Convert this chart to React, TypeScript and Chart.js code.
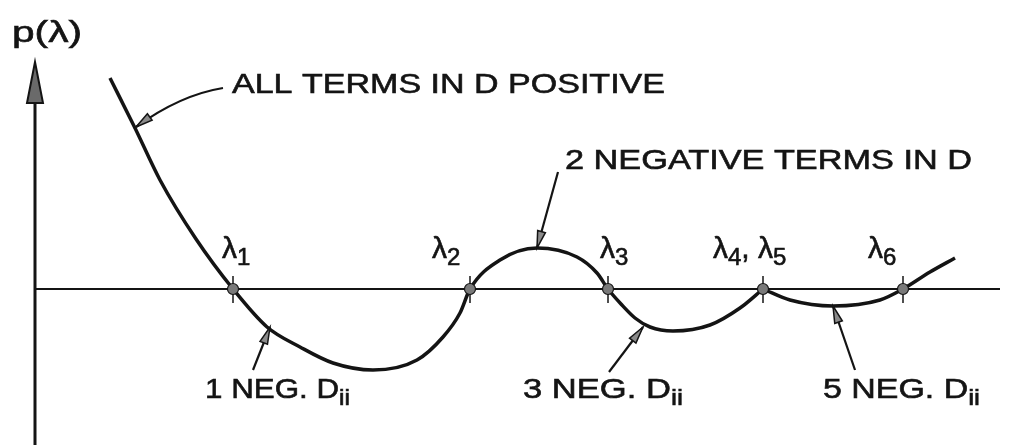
import { useEffect, useRef } from "react";
import { Chart, registerables } from "chart.js";

Chart.register(...registerables);

// p(λ) traced from the left branch up to the double root λ4 = λ5,
// where the curve touches the axis with a corner.
const lambdaLeft = [0.75, 1.0, 1.25, 1.61, 1.98, 2.32, 2.65, 2.98, 3.38, 3.82, 4.08, 4.25, 4.35, 4.65, 5.02, 5.42, 5.62, 5.73, 5.86, 6.0, 6.15, 6.38, 6.75, 7.05, 7.28];
const pLeft = [2.11, 1.61, 1.09, 0.5, 0, -0.38, -0.58, -0.74, -0.81, -0.71, -0.48, -0.24, 0, 0.29, 0.41, 0.32, 0.16, 0, -0.15, -0.29, -0.38, -0.42, -0.36, -0.19, 0];

// p(λ) from the double root onwards.
const lambdaRight = [7.28, 7.55, 7.98, 8.45, 8.68, 8.95, 9.2];
const pRight = [0, -0.11, -0.17, -0.11, 0, 0.17, 0.31];

// Roots on the λ axis and their labels (digits are set as subscripts).
const rootValues = [1.98, 4.35, 5.73, 7.28, 8.68];
const rootLabels = ["λ1", "λ2", "λ3", "λ4, λ5", "λ6"];
const rootLabelLeft = [1.87, 3.97, 5.65, 6.78, 8.33];

// Callout texts ("_" starts a subscript), with left λ, right λ and baseline p.
const calloutTexts = ["ALL TERMS IN D POSITIVE", "2 NEGATIVE TERMS IN D", "1 NEG. D_ii", "3 NEG. D_ii", "5 NEG. D_ii"];
const calloutLeft = [1.97, 5.3, 1.7, 4.88, 7.88];
const calloutRight = [6.3, 9.37, 3.15, 6.48, 9.45];
const calloutBaseline = [1.96, 1.2, -1.09, -1.09, -1.09];

// Leader arrows: start point and tip on the curve.
const leaderFrom = [[1.88, 2.01], [5.23, 1.17], [2.18, -0.81], [5.74, -0.83], [8.2, -0.81]];
const leaderTip = [[1.01, 1.62], [5.02, 0.41], [2.35, -0.38], [6.08, -0.38], [7.98, -0.17]];
const leaderBend = [[1.45, 1.94], null, null, null, null];

const LAMBDA_MIN = -0.35;
const LAMBDA_MAX = 9.78;
const P_MIN = -1.56;
const P_MAX = 2.89;
const AXIS_END = 9.65;
const ARROW_BASE = 1.86;
const ARROW_TIP = 2.27;

const INK = "#141414";
const FONT = "'Liberation Sans', 'DejaVu Sans', sans-serif";

type Run = { t: string; sub: boolean };

// "λ4, λ5" -> digits become subscripts
function rootRuns(label: string): Run[] {
  const runs: Run[] = [];
  for (const ch of label) {
    const sub = /[0-9]/.test(ch);
    const last = runs[runs.length - 1];
    if (last && last.sub === sub) last.t += ch;
    else runs.push({ t: ch, sub });
  }
  return runs;
}

// "3 NEG. D_ii" -> text after "_" becomes a subscript
function calloutRuns(label: string): Run[] {
  const parts = label.split("_");
  const runs: Run[] = [{ t: parts[0], sub: false }];
  if (parts.length > 1) runs.push({ t: parts[1], sub: true });
  return runs;
}

function drawRuns(
  ctx: CanvasRenderingContext2D,
  runs: Run[],
  x: number,
  y: number,
  size: number,
  subSize: number,
  subDrop: number,
  targetWidth?: number
) {
  const fontMain = `${size}px ${FONT}`;
  const fontSub = `${subSize}px ${FONT}`;
  let total = 0;
  for (const r of runs) {
    ctx.font = r.sub ? fontSub : fontMain;
    total += ctx.measureText(r.t).width;
  }
  const sx = targetWidth ? targetWidth / total : 1;
  ctx.save();
  ctx.translate(x, y);
  ctx.scale(sx, 1);
  ctx.fillStyle = INK;
  ctx.strokeStyle = INK;
  ctx.lineWidth = 0.6;
  ctx.textBaseline = "alphabetic";
  ctx.textAlign = "left";
  let cx = 0;
  for (const r of runs) {
    ctx.font = r.sub ? fontSub : fontMain;
    const dy = r.sub ? subDrop : 0;
    ctx.fillText(r.t, cx, dy);
    ctx.strokeText(r.t, cx, dy);
    cx += ctx.measureText(r.t).width;
  }
  ctx.restore();
}

function arrowHead(ctx: CanvasRenderingContext2D, fx: number, fy: number, tx: number, ty: number, len: number, half: number) {
  const ang = Math.atan2(ty - fy, tx - fx);
  const bx = tx - Math.cos(ang) * len;
  const by = ty - Math.sin(ang) * len;
  const nx = -Math.sin(ang) * half;
  const ny = Math.cos(ang) * half;
  ctx.beginPath();
  ctx.moveTo(tx, ty);
  ctx.lineTo(bx + nx, by + ny);
  ctx.lineTo(bx - nx, by - ny);
  ctx.closePath();
  ctx.fillStyle = "#8a8a8a";
  ctx.fill();
  ctx.lineWidth = 1.5;
  ctx.strokeStyle = INK;
  ctx.stroke();
}

const diagramPlugin = {
  id: "diagram",
  beforeDatasetsDraw(chart: any) {
    const { ctx, scales } = chart;
    const X = (v: number) => scales.x.getPixelForValue(v);
    const Y = (v: number) => scales.y.getPixelForValue(v);
    ctx.save();
    ctx.fillStyle = "#ffffff";
    ctx.fillRect(0, 0, chart.width, chart.height);

    // λ axis
    ctx.strokeStyle = INK;
    ctx.lineWidth = 2;
    ctx.beginPath();
    ctx.moveTo(X(0), Y(0));
    ctx.lineTo(X(AXIS_END), Y(0));
    ctx.stroke();

    // p axis with arrow
    ctx.lineWidth = 3;
    ctx.beginPath();
    ctx.moveTo(X(0), Y(P_MIN));
    ctx.lineTo(X(0), Y(ARROW_BASE) - 4);
    ctx.stroke();
    ctx.beginPath();
    ctx.moveTo(X(0), Y(ARROW_TIP));
    ctx.lineTo(X(0) + 8, Y(ARROW_BASE));
    ctx.lineTo(X(0) - 8, Y(ARROW_BASE));
    ctx.closePath();
    ctx.fillStyle = "#6a6a6a";
    ctx.fill();
    ctx.lineWidth = 2;
    ctx.strokeStyle = INK;
    ctx.stroke();

    // axis title
    drawRuns(ctx, [{ t: "p(λ)", sub: false }], X(-0.23), Y(2.47), 29, 29, 0, X(0.47) - X(-0.23));
    ctx.restore();
  },
  afterDatasetsDraw(chart: any) {
    const { ctx, scales } = chart;
    const X = (v: number) => scales.x.getPixelForValue(v);
    const Y = (v: number) => scales.y.getPixelForValue(v);
    ctx.save();

    // root markers
    rootValues.forEach((r) => {
      const px = X(r);
      const py = Y(0);
      ctx.strokeStyle = INK;
      ctx.lineWidth = 1.5;
      ctx.beginPath();
      ctx.moveTo(px, py - 13);
      ctx.lineTo(px, py + 14);
      ctx.stroke();
      ctx.beginPath();
      ctx.arc(px, py, 5.5, 0, Math.PI * 2);
      ctx.fillStyle = "#7a7a7a";
      ctx.fill();
      ctx.lineWidth = 1.2;
      ctx.stroke();
    });

    // root labels
    rootLabels.forEach((lab, i) => {
      drawRuns(ctx, rootRuns(lab), X(rootLabelLeft[i]), Y(0.31), 30, 24, 7);
    });

    // callout texts
    calloutTexts.forEach((txt, i) => {
      const w = X(calloutRight[i]) - X(calloutLeft[i]);
      drawRuns(ctx, calloutRuns(txt), X(calloutLeft[i]), Y(calloutBaseline[i]), 28, 22, 7, w);
    });

    // leader lines
    leaderFrom.forEach((f, i) => {
      const t = leaderTip[i];
      const b = leaderBend[i];
      const fx = X(f[0]);
      const fy = Y(f[1]);
      const tx = X(t[0]);
      const ty = Y(t[1]);
      ctx.strokeStyle = INK;
      ctx.lineWidth = 2.2;
      ctx.beginPath();
      ctx.moveTo(fx, fy);
      let ax = fx;
      let ay = fy;
      if (b) {
        ctx.quadraticCurveTo(X(b[0]), Y(b[1]), tx, ty);
        ax = X(b[0]);
        ay = Y(b[1]);
      } else {
        ctx.lineTo(tx, ty);
      }
      ctx.stroke();
      arrowHead(ctx, ax, ay, tx, ty, 17, 4);
    });
    ctx.restore();
  },
};

export default function App() {
  const ref = useRef<HTMLCanvasElement | null>(null);

  useEffect(() => {
    document.body.style.margin = "0";
    const canvas = ref.current;
    if (!canvas) return;
    const chart = new Chart(canvas, {
      type: "line",
      data: {
        datasets: [
          {
            data: lambdaLeft.map((x, i) => ({ x, y: pLeft[i] })),
            borderColor: INK,
            borderWidth: 3.5,
            pointRadius: 0,
            cubicInterpolationMode: "monotone",
            fill: false,
          },
          {
            data: lambdaRight.map((x, i) => ({ x, y: pRight[i] })),
            borderColor: INK,
            borderWidth: 3.5,
            pointRadius: 0,
            cubicInterpolationMode: "monotone",
            fill: false,
          },
        ],
      },
      options: {
        animation: false,
        responsive: false,
        events: [],
        layout: { padding: 0 },
        plugins: { legend: { display: false }, tooltip: { enabled: false } },
        scales: {
          x: { type: "linear", min: LAMBDA_MIN, max: LAMBDA_MAX, display: false },
          y: { type: "linear", min: P_MIN, max: P_MAX, display: false },
        },
      },
      plugins: [diagramPlugin],
    } as any);
    return () => chart.destroy();
  }, []);

  return (
    <div style={{ position: "fixed", left: 0, top: 0, width: 1013, height: 445, background: "#fff" }}>
      <canvas ref={ref} width={1013} height={445} style={{ width: 1013, height: 445, display: "block" }} />
    </div>
  );
}
